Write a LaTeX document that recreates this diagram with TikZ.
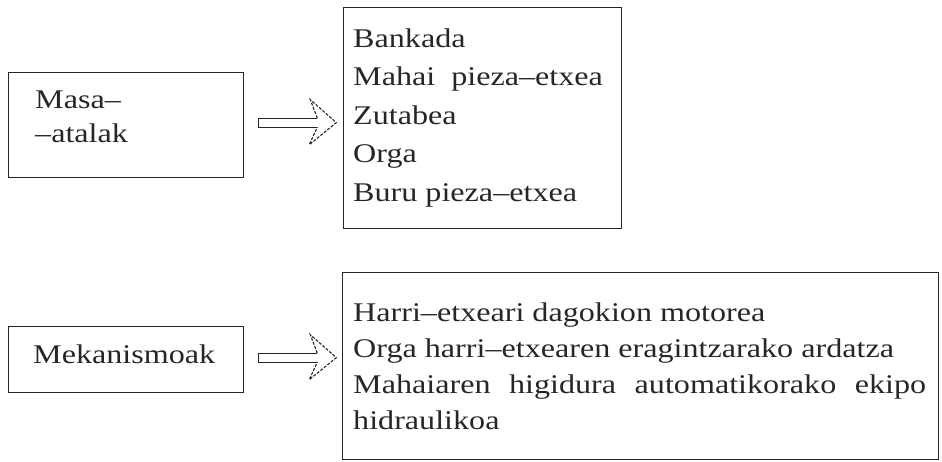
\documentclass[tikz,border=0pt]{standalone}
\usepackage{fontspec}
\setmainfont{Liberation Serif}[FakeStretch=1.19]
\usetikzlibrary{positioning}

\tikzset{
    box/.style={draw=black!85, line width=1.3pt, rectangle, inner sep=0pt, anchor=north west},
    item/.style={anchor=base west, inner sep=0pt, text=black!85, font=\fontsize{27}{37}\selectfont},
    hollowarrow/.pic={
        % shaft
        \draw[line width=1.1pt, black!85] (59,-4.5) -- (0,-4.5) -- (0,4.5) -- (59,4.5);
        % head
        \draw[line width=1.1pt, black!85, dash pattern=on 3pt off 1.5pt]
            (59,-4.5) -- (52,-23) -- (78,0) -- (51,22) -- (59,4.5);
    }
}

\begin{document}
\begin{tikzpicture}[x=1pt, y=-1pt]
    \useasboundingbox (0,0) rectangle (942,461);

    % Boxes
    \node[box, minimum width=235pt, minimum height=105pt] (masa) at (8,72) {};
    \node[box, minimum width=278pt, minimum height=221pt] (atalak) at (343,7) {};
    \node[box, minimum width=235pt, minimum height=66pt] (meka) at (8,326) {};
    \node[box, minimum width=596pt, minimum height=187pt] (ekipo) at (342,272) {};

    % Labels on the left
    \node[item] (masa1) at (35,108) {Masa–};
    \node[item] (masa2) at (35,142) {–atalak};
    \node[item] (meka1) at (33,363) {Mekanismoak};

    % Lists on the right
    \foreach \t [count=\i] in {Bankada, Mahai\ \ pieza–etxea, Zutabea, Orga, Buru pieza–etxea} {
        \node[item] (atal\i) at (353,{47+38.5*(\i-1)}) {\t};
    }
    \foreach \t [count=\i] in {Harri–etxeari dagokion motorea,
        Orga harri–etxearen eragintzarako ardatza,
        {\makebox[573pt][s]{Mahaiaren higidura automatikorako ekipo}},
        hidraulikoa} {
        \node[item] (meka\i) at (353,{321+36*(\i-1)}) {\t};
    }

    % Arrows
    \pic at ([xshift=14pt, yshift=2.5pt]masa.east) {hollowarrow};
    \pic at ([xshift=14pt, yshift=2pt]meka.east) {hollowarrow};
\end{tikzpicture}
\end{document}
